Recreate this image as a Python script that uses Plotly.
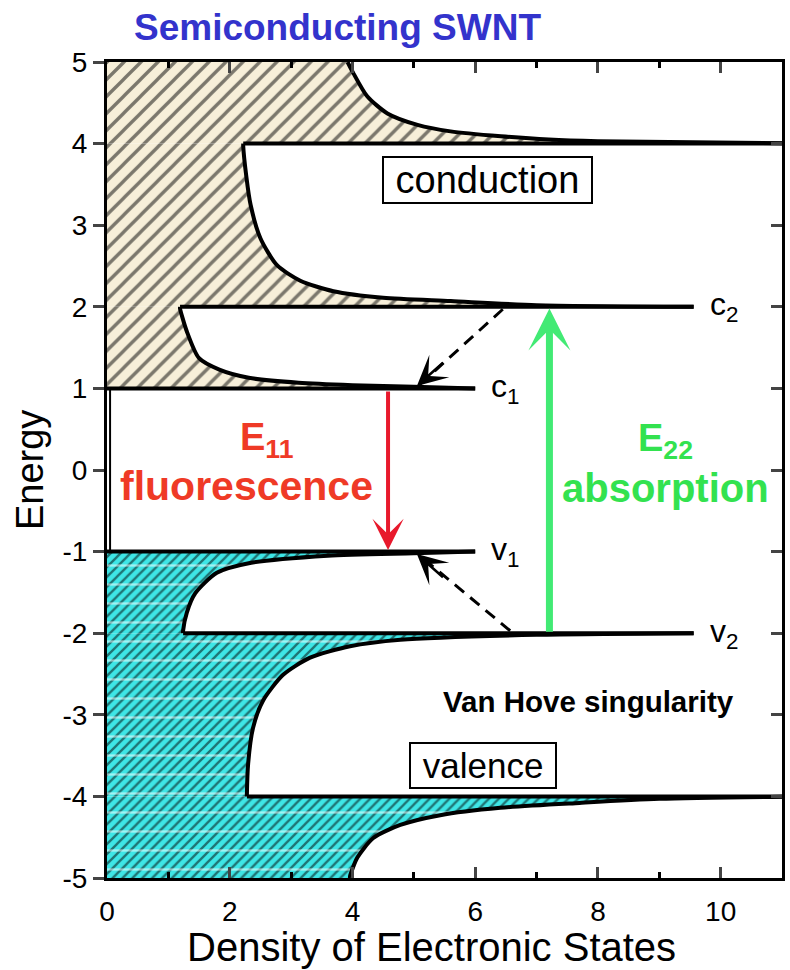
import plotly.graph_objects as go

# ---------------- data ----------------
# band-edge (Van Hove) energies and how far each level line extends (DOS units)
level_E = [-4.0, -2.0, -1.0, 1.0, 2.0, 4.0]
level_end = [11.5, 9.56, 6.0, 6.0, 9.56, 11.5]

# conduction sub-bands: energy (y) and density of states (x)
cb1_E = [1.02, 1.04, 1.07, 1.13, 1.23, 1.37, 1.70, 1.98, 2.00]
cb1_dos = [5.0, 4.0, 3.12, 2.31, 1.83, 1.50, 1.30, 1.19, 1.19]
cb2_E = [2.02, 2.07, 2.11, 2.19, 2.32, 2.51, 2.84, 3.25, 3.60, 3.97, 4.00]
cb2_dos = [7.0, 5.6, 4.5, 3.69, 3.15, 2.77, 2.50, 2.34, 2.27, 2.22, 2.22]
cb3_E = [4.03, 4.05, 4.09, 4.15, 4.23, 4.37, 4.58, 4.87, 5.00]
cb3_dos = [8.0, 7.2, 6.42, 5.6, 5.06, 4.57, 4.24, 4.01, 3.92]

# valence sub-bands
vb1_E = [-1.02, -1.05, -1.14, -1.26, -1.51, -1.75, -1.97, -2.00]
vb1_dos = [5.0, 3.6, 2.33, 1.79, 1.44, 1.30, 1.24, 1.24]
vb2_E = [-2.02, -2.08, -2.16, -2.30, -2.51, -2.83, -3.16, -3.60, -3.98, -4.00]
vb2_dos = [7.0, 4.78, 3.96, 3.31, 2.87, 2.54, 2.38, 2.30, 2.28, 2.28]
vb3_E = [-4.03, -4.08, -4.14, -4.23, -4.35, -4.51, -4.75, -4.98, -5.00]
vb3_dos = [9.0, 7.7, 6.41, 5.43, 4.78, 4.34, 4.08, 3.96, 3.96]

x_ticks = [0, 2, 4, 6, 8, 10]
y_ticks = [-5, -4, -3, -2, -1, 0, 1, 2, 3, 4, 5]
y_ticktext = ["-5", "-4", "-3", "-2", "-1", "0", "1", "2", "3", "4", "5"]

lev = dict(zip(level_E, level_end))

# each sub-band segment starts at the end of the level line of its own band edge
c_segs = [([lev[1.0]] + cb1_dos, [1.0] + cb1_E),
          ([lev[2.0]] + cb2_dos, [2.0] + cb2_E),
          ([lev[4.0]] + cb3_dos, [4.0] + cb3_E)]
v_segs = [([lev[-1.0]] + vb1_dos, [-1.0] + vb1_E),
          ([lev[-2.0]] + vb2_dos, [-2.0] + vb2_E),
          ([lev[-4.0]] + vb3_dos, [-4.0] + vb3_E)]
# where each level line starts (corner of the band below/above, or 0 at the gap)
level_start = {1.0: 0.0, -1.0: 0.0, 2.0: cb1_dos[-1], 4.0: cb2_dos[-1],
               -2.0: vb1_dos[-1], -4.0: vb2_dos[-1]}

BEIGE = "#f7efd9"
CYAN = "#3ee6e6"
SM = 0.7

fig = go.Figure()

for xs, ys in v_segs:
    fig.add_trace(go.Scatter(
        x=xs, y=ys, mode="lines", fill="tozerox",
        line=dict(width=0, shape="spline", smoothing=SM), fillcolor=CYAN,
        fillpattern=dict(shape="/", fgcolor="black", bgcolor=CYAN, size=7, solidity=0.33),
        hoverinfo="skip", showlegend=False))
    fig.add_trace(go.Scatter(
        x=xs, y=ys, mode="lines", fill="tozerox",
        line=dict(width=0, shape="spline", smoothing=SM), fillcolor="rgba(0,0,0,0)",
        fillpattern=dict(shape="-", fgcolor="white", bgcolor="rgba(0,0,0,0)", size=19, solidity=0.12),
        hoverinfo="skip", showlegend=False))
for xs, ys in c_segs:
    fig.add_trace(go.Scatter(
        x=xs, y=ys, mode="lines", fill="tozerox",
        line=dict(width=0, shape="spline", smoothing=SM), fillcolor=BEIGE,
        fillpattern=dict(shape="/", fgcolor="black", bgcolor=BEIGE, size=12, solidity=0.28),
        hoverinfo="skip", showlegend=False))

# outlines of the DOS curves
for xs, ys in c_segs + v_segs:
    fig.add_trace(go.Scatter(x=xs, y=ys, mode="lines",
                             line=dict(color="black", width=4, shape="spline", smoothing=SM),
                             hoverinfo="skip", showlegend=False))
# gap outline (DOS = 0)
fig.add_trace(go.Scatter(x=[0.05, 0.05], y=[1.0, -1.0], mode="lines",
                         line=dict(color="black", width=2),
                         hoverinfo="skip", showlegend=False))
# level lines
for e in level_E:
    fig.add_trace(go.Scatter(x=[level_start[e], lev[e]], y=[e, e], mode="lines",
                             line=dict(color="black", width=4),
                             hoverinfo="skip", showlegend=False))

# dashed relaxation lines
fig.add_trace(go.Scatter(x=[6.45, 5.1], y=[1.97, 1.05], mode="lines",
                         line=dict(color="black", width=3, dash="12px,8px"),
                         hoverinfo="skip", showlegend=False))
fig.add_trace(go.Scatter(x=[6.57, 5.1], y=[-1.97, -1.05], mode="lines",
                         line=dict(color="black", width=3, dash="12px,8px"),
                         hoverinfo="skip", showlegend=False))

# invisible trace on the top/right mirror axes
fig.add_trace(go.Scatter(x=[0], y=[0], xaxis="x2", yaxis="y2", mode="markers",
                         marker=dict(opacity=0), hoverinfo="skip", showlegend=False))

FONT = "Liberation Sans, Arial, Helvetica, sans-serif"
NB = "&nbsp;"
ann = []
# arrows
ann.append(dict(x=4.58, y=-0.98, ax=4.58, ay=0.98, xref="x", yref="y", axref="x", ayref="y",
                showarrow=True, arrowhead=3, arrowsize=1.3, arrowwidth=4, arrowcolor="#e8192c", text=""))
ann.append(dict(x=7.21, y=1.98, ax=7.21, ay=-2.0, xref="x", yref="y", axref="x", ayref="y",
                showarrow=True, arrowhead=3, arrowsize=1.0, arrowwidth=7, arrowcolor="#42ea74", text=""))
ann.append(dict(x=5.05, y=1.03, ax=5.5, ay=1.33, xref="x", yref="y", axref="x", ayref="y",
                showarrow=True, arrowhead=3, arrowsize=2.0, arrowwidth=2.5, arrowcolor="black", text=""))
ann.append(dict(x=5.05, y=-1.03, ax=5.5, ay=-1.33, xref="x", yref="y", axref="x", ayref="y",
                showarrow=True, arrowhead=3, arrowsize=2.0, arrowwidth=2.5, arrowcolor="black", text=""))

# level labels
for txt, xx, yy in [("c<sub>2</sub>", 9.8, 2.0), ("c<sub>1</sub>", 6.22, 1.0),
                    ("v<sub>1</sub>", 6.22, -1.0), ("v<sub>2</sub>", 9.8, -2.0)]:
    ann.append(dict(x=xx, y=yy, xref="x", yref="y", text=txt, showarrow=False,
                    xanchor="left", yanchor="middle", font=dict(family=FONT, size=32, color="black")))

# boxed labels
ann.append(dict(x=6.2, y=3.55, xref="x", yref="y", text=NB + "conduction" + NB, showarrow=False,
                xanchor="center", yanchor="middle",
                font=dict(family=FONT, size=38, color="black"),
                bordercolor="black", borderwidth=2, borderpad=1, bgcolor="white"))
ann.append(dict(x=6.13, y=-3.62, xref="x", yref="y", text=NB + "valence" + NB, showarrow=False,
                xanchor="center", yanchor="middle",
                font=dict(family=FONT, size=35, color="black"),
                bordercolor="black", borderwidth=2, borderpad=2, bgcolor="white"))
ann.append(dict(x=7.85, y=-2.84, xref="x", yref="y", text="<b>Van Hove singularity</b>", showarrow=False,
                xanchor="center", yanchor="middle",
                font=dict(family=FONT, size=29.5, color="black")))

# transition labels
ann.append(dict(x=2.6, y=0.37, xref="x", yref="y", text="<b>E<sub>11</sub></b>", showarrow=False,
                xanchor="center", yanchor="middle",
                font=dict(family=FONT, size=38, color="#ef3a26")))
ann.append(dict(x=2.28, y=-0.2, xref="x", yref="y", text="<b>fluorescence</b>", showarrow=False,
                xanchor="center", yanchor="middle",
                font=dict(family=FONT, size=41, color="#ef3a26")))
ann.append(dict(x=9.1, y=0.35, xref="x", yref="y", text="<b>E<sub>22</sub></b>", showarrow=False,
                xanchor="center", yanchor="middle",
                font=dict(family=FONT, size=38, color="#33e24f")))
ann.append(dict(x=9.1, y=-0.22, xref="x", yref="y", text="<b>absorption</b>", showarrow=False,
                xanchor="center", yanchor="middle",
                font=dict(family=FONT, size=40, color="#33e24f")))

# title and axis titles
ann.append(dict(x=0.341, y=1.0417, xref="paper", yref="paper", text="<b>Semiconducting SWNT</b>",
                xanchor="center", yanchor="middle",
                showarrow=False, font=dict(family=FONT, size=37, color="#3333cc")))
ann.append(dict(x=-0.114, y=0.5, xref="paper", yref="paper", text="Energy", textangle=-90,
                xanchor="center", yanchor="middle",
                showarrow=False, font=dict(family=FONT, size=38, color="black")))
ann.append(dict(x=0.481, y=-0.0846, xref="paper", yref="paper", text="Density of Electronic States",
                xanchor="center", yanchor="middle",
                showarrow=False, font=dict(family=FONT, size=40, color="black")))

fig.update_layout(
    width=790, height=970,
    margin=dict(l=107, r=8, t=62, b=92, autoexpand=False),
    paper_bgcolor="white", plot_bgcolor="white",
    font=dict(family=FONT, size=28, color="black"),
    annotations=ann,
    xaxis=dict(range=[0, 11], tickvals=x_ticks, ticks="inside", ticklen=11, tickwidth=3,
               minor=dict(ticks="inside", dtick=1, ticklen=6, tickwidth=3, tickcolor="black"),
               showline=True, linewidth=3, linecolor="black", mirror=True,
               showgrid=False, zeroline=False, ticklabelstandoff=6, automargin=False,
               tickfont=dict(family=FONT, size=28)),
    xaxis2=dict(range=[0, 11], overlaying="x", side="top", tickvals=x_ticks, ticks="inside",
                ticklen=11, tickwidth=3,
                minor=dict(ticks="inside", dtick=1, ticklen=6, tickwidth=3, tickcolor="black"),
                showticklabels=False, showgrid=False, zeroline=False, showline=False,
                automargin=False),
    yaxis=dict(range=[-5, 5], tickvals=y_ticks, ticktext=y_ticktext, ticks="outside",
               ticklen=11, tickwidth=3,
               showline=True, linewidth=3, linecolor="black", mirror=True, automargin=False,
               showgrid=False, zeroline=False, tickfont=dict(family=FONT, size=28)),
    yaxis2=dict(range=[-5, 5], overlaying="y", side="right", tickvals=y_ticks, ticks="inside",
                ticklen=11, tickwidth=3, showticklabels=False, showgrid=False, zeroline=False,
                showline=False, automargin=False),
)

fig.write_html("out.html", config={"displayModeBar": False},
               post_script="document.body.style.margin='0px';")
